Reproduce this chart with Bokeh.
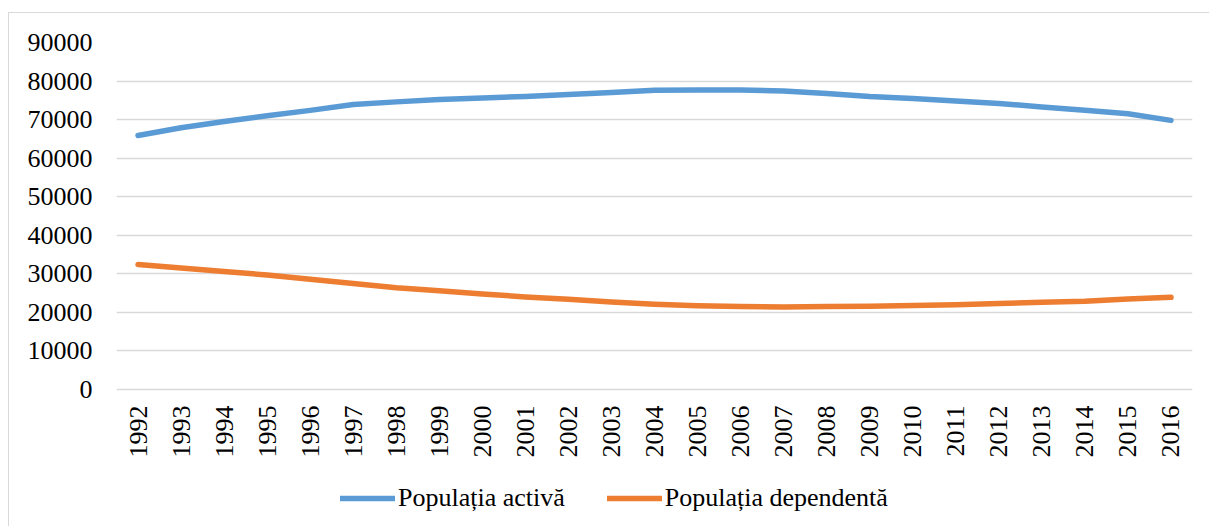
from bokeh.plotting import figure
from bokeh.models import FactorRange, Range1d, FixedTicker, NumeralTickFormatter, Legend, LegendItem
from bokeh.core.properties import value
from bokeh.embed import file_html
from bokeh.resources import INLINE
import math

years = [str(y) for y in range(1992, 2017)]
activa = [65900, 67900, 69500, 71000, 72400, 73900, 74600, 75200, 75600, 76000,
          76500, 77000, 77600, 77700, 77700, 77400, 76800, 76000, 75500, 74800,
          74200, 73300, 72400, 71500, 69800]
dependenta = [32400, 31500, 30600, 29700, 28600, 27500, 26400, 25600, 24800, 24000,
              23400, 22700, 22100, 21700, 21500, 21400, 21500, 21600, 21800, 22000,
              22300, 22600, 22900, 23500, 23900]
y_ticks = [0, 10000, 20000, 30000, 40000, 50000, 60000, 70000, 80000, 90000]
series_names = ["Populația activă", "Populația dependentă"]
colors = ["#5B9BD5", "#ED7D31"]

FONT = "Liberation Serif"

# plotting area: 347 px for 0..90000, plus 137 px below zero for year labels and legend
Y_MAX = 90000
PX_DATA = 347
PX_BELOW = 137
units_per_px = Y_MAX / PX_DATA
y_start = -PX_BELOW * units_per_px

p = figure(x_range=FactorRange(*years, range_padding=0), y_range=Range1d(y_start, Y_MAX),
           frame_width=1076, frame_height=PX_DATA + PX_BELOW, output_backend="svg", toolbar_location=None,
           min_border_left=107, min_border_right=17, min_border_top=29, min_border_bottom=0)
p.styles = {"border-top": "1px solid #D9D9D9", "border-left": "1px solid #D9D9D9",
            "margin-left": "8px", "margin-top": "12px"}
p.outline_line_color = None
p.background_fill_color = "white"
p.border_fill_color = "white"

r1 = p.line(years, activa, line_color=colors[0], line_width=5.5, line_cap="round", line_join="round")
r2 = p.line(years, dependenta, line_color=colors[1], line_width=5.5, line_cap="round", line_join="round")

yticker = FixedTicker(ticks=y_ticks)
p.xgrid.grid_line_color = None
p.ygrid.ticker = yticker
p.ygrid.grid_line_color = "#D9D9D9"
p.ygrid.grid_line_width = 1.3
p.yaxis.ticker = yticker
p.yaxis.formatter = NumeralTickFormatter(format="0")
ax = p.yaxis[0]
ax.axis_line_color = None
ax.major_tick_line_color = None
ax.minor_tick_line_color = None
ax.major_tick_in = 0
ax.major_tick_out = 0
ax.minor_tick_out = 0
ax.major_label_text_font = FONT
ax.major_label_text_font_size = "26px"
ax.major_label_text_color = "black"
ax.major_label_standoff = 24
p.xaxis.visible = False

# year labels, vertical, just under the zero line
label_y = [-16 * units_per_px] * len(years)
p.text(x=years, y=label_y, text=years, angle=math.pi / 2,
       text_align="right", text_baseline="middle",
       text_font=value(FONT), text_font_size="26px", text_color="black")

legend = Legend(items=[LegendItem(label=series_names[0], renderers=[r1]),
                       LegendItem(label=series_names[1], renderers=[r2])],
                orientation="horizontal", location=(224, 13),
                label_text_font=FONT, label_text_font_size="26px", label_text_color="black",
                glyph_width=55, glyph_height=20, label_standoff=3, spacing=42,
                border_line_color=None, background_fill_alpha=0,
                margin=0, padding=0)
p.add_layout(legend, "center")

open("out.html", "w").write(file_html(p, INLINE))
